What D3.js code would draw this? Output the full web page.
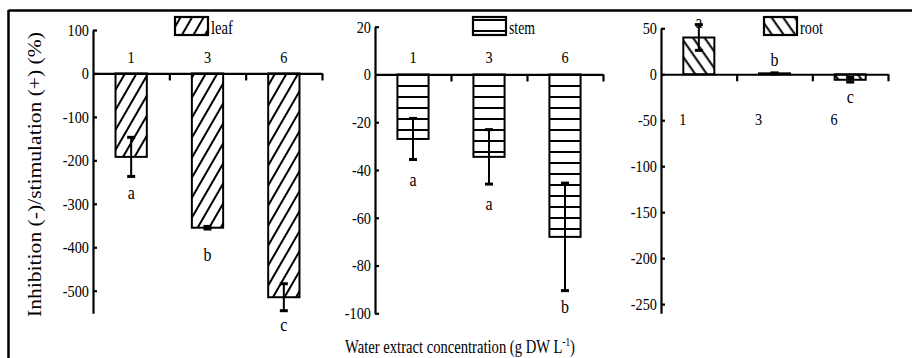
<!DOCTYPE html>
<html>
<head>
<meta charset="utf-8">
<script src="https://cdn.jsdelivr.net/npm/d3@7"></script>
<style>
  body { margin: 0; background: #fff; }
  svg { display: block; }
  text { font-family: "Liberation Serif", "DejaVu Serif", serif; fill: #000; }
</style>
</head>
<body>
<div id="chrt"></div>
<script>
// ---- data ----
const concentrations = ['1', '3', '6'];

const leafMean = [-192, -355, -515];
const leafErr = [45, 3, 31];
const leafLetters = ['a', 'b', 'c'];
const leafLetterAt = [-274, -417, -578];
const leafTicks = [100, 0, -100, -200, -300, -400, -500];

const stemMean = [-27, -34.5, -68];
const stemErr = [8.6, 11.4, 22.5];
const stemLetters = ['a', 'a', 'b'];
const stemLetterAt = [-44, -54, -97.5];
const stemTicks = [20, 0, -20, -40, -60, -80, -100];

const rootMean = [40, 1, -6];
const rootErr = [14, 0.5, 2.5];
const rootLetters = ['a', 'b', 'c'];
const rootLetterAt = [57, 15.5, -25];
const rootTicks = [50, 0, -50, -100, -150, -200, -250];

const yTitle = 'Inhibition (-)/stimulation (+) (%)';

// ---- layout ----
const width = 912, height = 358;
const SQ = 0.84; // the original text is narrow, squeeze it a bit
const FONT = '"Liberation Serif", "DejaVu Serif", serif';

const panels = [
  { name: 'leaf', mean: leafMean, err: leafErr, letters: leafLetters, letterAt: leafLetterAt, ticks: leafTicks,
    domain: [-552, 100], yRange: [313.3, 30], x0: 93, x1: 322, legendX: 175, legendW: 22, pattern: 'pLeaf', catY: 63, catDx: 0 },
  { name: 'stem', mean: stemMean, err: stemErr, letters: stemLetters, letterAt: stemLetterAt, ticks: stemTicks,
    domain: [-100, 20], yRange: [313.3, 26.7], x0: 375, x1: 603, legendX: 473, legendW: 26, pattern: 'pStem', catY: 63, catDx: 0 },
  { name: 'root', mean: rootMean, err: rootErr, letters: rootLetters, letterAt: rootLetterAt, ticks: rootTicks,
    domain: [-260, 50], yRange: [313.3, 28.3], x0: 661, x1: 888, legendX: 764, legendW: 23, pattern: 'pRoot', catY: 125, catDx: -16 }
];

const svg = d3.select('#chrt').append('svg')
    .attr('width', width)
    .attr('height', height)
    .attr('font-family', FONT);

svg.append('rect').attr('width', width).attr('height', height).attr('fill', '#fff');

// hatch patterns
const defs = svg.append('defs');
function hatch(id, angle, period, offset) {
  const p = defs.append('pattern')
      .attr('id', id)
      .attr('patternUnits', 'userSpaceOnUse')
      .attr('width', period)
      .attr('height', period)
      .attr('patternTransform', 'rotate(' + angle + ')');
  p.append('rect').attr('width', period).attr('height', period).attr('fill', '#fff');
  p.append('line')
      .attr('x1', -1).attr('x2', period + 1)
      .attr('y1', offset).attr('y2', offset)
      .attr('stroke', '#000')
      .attr('stroke-width', 2);
}
hatch('pLeaf', -60, 10, 5);
hatch('pStem', 0, 11, 9);
hatch('pRoot', 55, 9.5, 5);

// frame (only top and left edges are visible)
svg.append('line').attr('x1', 8.5).attr('x2', width).attr('y1', 10.5).attr('y2', 10.5)
    .attr('stroke', '#000').attr('stroke-width', 2.5);
svg.append('line').attr('x1', 8.5).attr('x2', 8.5).attr('y1', 10).attr('y2', height)
    .attr('stroke', '#000').attr('stroke-width', 2.5);

// scale a text horizontally so it spans the target width
function fitWidth(sel, target) {
  const w = sel.node().getComputedTextLength();
  return target / w;
}

panels.forEach((p) => {
  const g = svg.append('g');
  const scaleY = d3.scaleLinear().domain(p.domain).range(p.yRange);
  const scaleX = d3.scaleBand().domain(concentrations).range([p.x0, p.x1]);
  const barW = scaleX.bandwidth() * 0.41;
  const cx = (c) => scaleX(c) + scaleX.bandwidth() / 2;
  const y0 = scaleY(0);

  // bars
  g.selectAll('.bar')
      .data(concentrations)
      .enter().append('rect')
      .attr('x', (c) => cx(c) - barW / 2)
      .attr('y', (c, i) => scaleY(Math.max(0, p.mean[i])))
      .attr('width', barW)
      .attr('height', (c, i) => Math.abs(scaleY(p.mean[i]) - y0))
      .attr('fill', 'url(#' + p.pattern + ')')
      .attr('stroke', '#000')
      .attr('stroke-width', 2);

  // y axis, ticks pointing inward, plain hyphen for minus
  const yAxis = d3.axisLeft(scaleY)
      .tickValues(p.ticks)
      .tickFormat((d) => String(d))
      .tickSizeInner(-4).tickSizeOuter(0).tickPadding(4);
  const ya = g.append('g')
      .attr('transform', 'translate(' + p.x0 + ',0)')
      .call(yAxis);
  ya.attr('font-family', FONT).attr('font-size', 17);
  ya.selectAll('path, line').attr('stroke', '#000').attr('stroke-width', 2.2);
  ya.selectAll('text').attr('fill', '#000').attr('transform', 'scale(' + SQ + ',1)')
      .attr('x', -4 / SQ);

  // zero line with downward ticks at band boundaries
  const xb = d3.scaleLinear().domain([0, 3]).range([p.x0, p.x1]);
  const xa = g.append('g')
      .attr('transform', 'translate(0,' + y0 + ')')
      .call(d3.axisBottom(xb).tickValues([1, 2, 3]).tickSize(7).tickSizeOuter(0).tickFormat(''));
  xa.selectAll('path, line').attr('stroke', '#000').attr('stroke-width', 2.2);

  // category labels
  g.selectAll('.cat')
      .data(concentrations)
      .enter().append('text')
      .attr('transform', (c) => 'translate(' + (cx(c) + p.catDx) + ',' + p.catY + ') scale(' + SQ + ',1)')
      .attr('text-anchor', 'middle')
      .attr('font-size', 17)
      .text((c) => c);

  // error bars
  const eb = g.selectAll('.err')
      .data(concentrations)
      .enter().append('g');
  eb.append('line')
      .attr('x1', (c) => cx(c)).attr('x2', (c) => cx(c))
      .attr('y1', (c, i) => scaleY(p.mean[i] + p.err[i]))
      .attr('y2', (c, i) => scaleY(p.mean[i] - p.err[i]))
      .attr('stroke', '#000').attr('stroke-width', 2);
  [1, -1].forEach((sgn) => {
    eb.append('line')
        .attr('x1', (c) => cx(c) - 4).attr('x2', (c) => cx(c) + 4)
        .attr('y1', (c, i) => scaleY(p.mean[i] + sgn * p.err[i]))
        .attr('y2', (c, i) => scaleY(p.mean[i] + sgn * p.err[i]))
        .attr('stroke', '#000').attr('stroke-width', 3);
  });

  // significance letters
  g.selectAll('.let')
      .data(concentrations)
      .enter().append('text')
      .attr('transform', (c, i) => 'translate(' + cx(c) + ',' + scaleY(p.letterAt[i]) + ') scale(' + SQ + ',1)')
      .attr('text-anchor', 'middle')
      .attr('dy', '0.32em')
      .attr('font-size', 19)
      .text((c, i) => p.letters[i]);

  // legend
  g.append('rect')
      .attr('x', p.legendX).attr('y', 17)
      .attr('width', 33).attr('height', 18)
      .attr('fill', 'url(#' + p.pattern + ')')
      .attr('stroke', '#000').attr('stroke-width', 2.2);
  const lt = g.append('text')
      .attr('font-size', 18)
      .text(p.name);
  lt.attr('transform', 'translate(' + (p.legendX + 36) + ',34) scale(' + fitWidth(lt, p.legendW) + ',1)');
});

// axis titles
const xt = svg.append('text')
    .attr('text-anchor', 'middle')
    .attr('font-size', 19);
xt.append('tspan').text('Water extract concentration (g DW L');
xt.append('tspan').attr('dy', -7).attr('font-size', 12).text('-1');
xt.append('tspan').attr('dy', 7).text(')');
xt.attr('transform', 'translate(460,352.5) scale(' + fitWidth(xt, 230) + ',1)');

const yt = svg.append('text')
    .attr('text-anchor', 'middle')
    .attr('font-size', 19)
    .text(yTitle);
yt.attr('transform', 'translate(41,174.5) rotate(-90) scale(' + fitWidth(yt, 285) + ',1)');
</script>
</body>
</html>
